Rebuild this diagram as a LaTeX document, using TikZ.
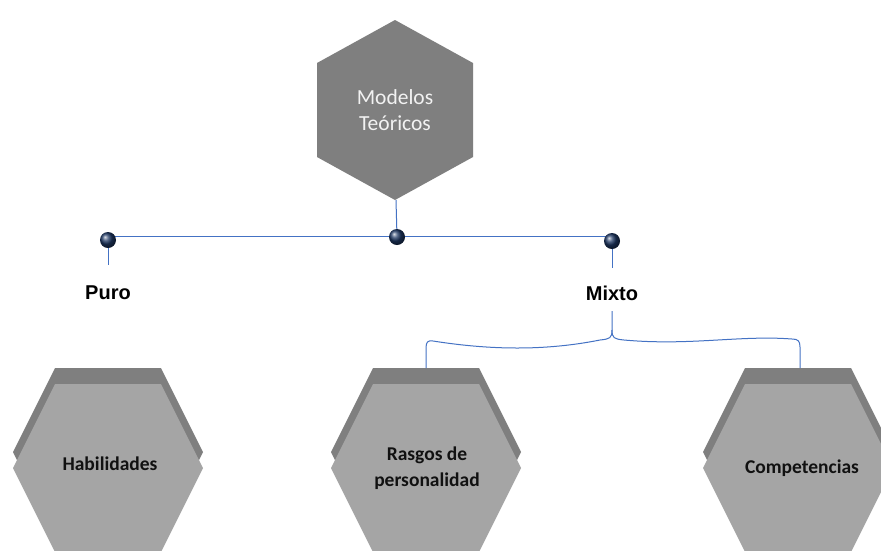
\documentclass[tikz,border=0pt]{standalone}
\usepackage{fontspec}
\setmainfont{Carlito}
\newfontfamily\arialfont{Liberation Sans}
\usetikzlibrary{shadings,backgrounds}
\definecolor{hexdark}{HTML}{7F7F7F}
\definecolor{hexlight}{HTML}{A5A5A5}
\definecolor{linkblue}{HTML}{4472C4}
\definecolor{dotnavy}{HTML}{1F3864}
\definecolor{toptext}{HTML}{F2F2F2}
\definecolor{labtext}{HTML}{111111}
\tikzset{
  bl/.style={draw=linkblue, line width=1pt},
  dotball/.style={circle, inner sep=0pt, minimum size=16pt, shading=ball, ball color=dotnavy},
  backhex/.style={fill=hexdark, draw=none},
  fronthex/.style={fill=hexlight, draw=none},
  hexlabel/.style={align=center, text=labtext, font=\fontsize{19.5}{26}\selectfont\bfseries},
  toplabel/.style={align=center, text=toptext, font=\fontsize{21.5}{26}\selectfont},
  branchlabel/.style={text=black, font=\arialfont\bfseries\fontsize{20}{24}\selectfont}
}
\begin{document}
\begin{tikzpicture}[x=1pt,y=-1pt]
\useasboundingbox (0,0) rectangle (881,550);
\clip (0,0) rectangle (881,550);
\begin{scope}[on background layer]
\fill[white] (0,0) rectangle (881,550);
\end{scope}

% top hexagon
\fill[hexdark] (395,20) -- (473,63) -- (473,157) -- (395,200) -- (317,157) -- (317,63) -- cycle;
\node[toplabel] (top) at (395,110) {Modelos\\Teóricos};
\coordinate (topbot) at (396,200);

% bottom hexagons
\foreach \cx in {108, 426, 798}{
  \fill[backhex] (\cx-53,368) -- (\cx+53,368) -- (\cx+95,452) -- (\cx+53,536) -- (\cx-53,536) -- (\cx-95,452) -- cycle;
  \fill[fronthex] (\cx-53,384) -- (\cx+53,384) -- (\cx+95,468) -- (\cx+53,552) -- (\cx-53,552) -- (\cx-95,468) -- cycle;
}
\node[hexlabel] (hab) at (110,464) {Habilidades};
\node[hexlabel] (ras) at (427,468) {Rasgos de\\personalidad};
\node[hexlabel] (com) at (802,468) {Competencias};

% branch labels
\node[branchlabel] (puro) at (108,293) {Puro};
\node[branchlabel] (mixto) at (612,293) {Mixto};

% dots and connectors
\coordinate (hl) at (108,236);
\coordinate (hr) at (612,236);
\coordinate (d1b) at (108,265);
\coordinate (d3b) at (612,268);
\coordinate (mixb) at (612,311);
\coordinate (rastop) at (426,368);
\coordinate (comtop) at (800,368);
\node[dotball] (d1) at (108,240) {};
\node[dotball] (d2) at (397,237) {};
\node[dotball] (d3) at (612,241) {};
\begin{scope}[on background layer]
\draw[bl] (hl) -- (hr);
\draw[bl] (topbot) -- (d2.center);
\draw[bl] (d1.center) -- (d1b);
\draw[bl] (d3.center) -- (d3b);
\end{scope}

% brace from Mixto
\draw[bl] (mixb) -- (612,330) .. controls (612,338) and (610,339) .. (600,340)
  .. controls (545,351) and (490,350) .. (433,341)
  .. controls (428,340) and (426,342) .. (426,348) -- (rastop);
\draw[bl] (612,330) .. controls (612,338) and (614,339) .. (624,340)
  .. controls (690,346) and (740,335) .. (792,339)
  .. controls (798,339) and (800,341) .. (800,347) -- (comtop);
\end{tikzpicture}
\end{document}
